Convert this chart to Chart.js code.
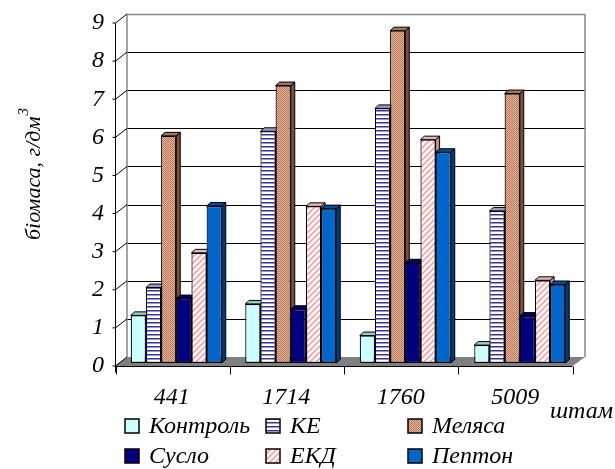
<!DOCTYPE html>
<html>
<head>
<meta charset="utf-8">
<script src="https://cdn.jsdelivr.net/npm/chart.js@4.4.1/dist/chart.umd.min.js"></script>
<style>
  html, body { margin: 0; padding: 0; background: #fff; }
  canvas { display: block; }
</style>
</head>
<body>
<canvas id="chart" width="615" height="469"></canvas>
<script>
// ── Data ───────────────────────────────────────────────────────────────────
const STRAINS  = ['441', '1714', '1760', '5009'];
const SERIES   = ['Контроль', 'КЕ', 'Меляса', 'Сусло', 'ЕКД', 'Пептон'];
const KONTROL  = [1.25, 1.55, 0.72, 0.47];
const KE       = [1.98, 6.08, 6.68, 3.99];
const MELIASA  = [5.96, 7.28, 8.72, 7.07];
const SUSLO    = [1.69, 1.41, 2.63, 1.23];
const EKD      = [2.89, 4.11, 5.86, 2.17];
const PEPTON   = [4.12, 4.05, 5.53, 2.06];
const Y_TICKS  = [0, 1, 2, 3, 4, 5, 6, 7, 8, 9];

// ── Look ───────────────────────────────────────────────────────────────────
const FAMILY = '"Liberation Serif", "Times New Roman", serif';
const FONT = 'italic 24px ' + FAMILY;
const BAR_DX = 4, BAR_DY = 3.5;     // bar depth
const FRONT_DX = -4.5, FRONT_DY = 3; // bar plane -> front plane
const BACK_DX = 8, BACK_DY = -6;     // bar plane -> back wall

function pattern(w, h, draw) {
  const c = document.createElement('canvas');
  c.width = w; c.height = h;
  const g = c.getContext('2d');
  draw(g);
  return g.createPattern(c, 'repeat');
}

const FILLS = [
  '#CCFFFF',
  pattern(4, 4, g => {
    g.fillStyle = '#fff'; g.fillRect(0, 0, 4, 4);
    g.fillStyle = '#333399'; g.fillRect(0, 2, 4, 1);
    g.fillStyle = '#9999cc'; g.fillRect(0, 3, 4, 1);
  }),
  pattern(2, 2, g => {
    g.fillStyle = '#E6B89C'; g.fillRect(0, 0, 2, 2);
    g.fillStyle = '#B77458'; g.fillRect(0, 0, 1, 1); g.fillRect(1, 1, 1, 1);
  }),
  '#000080',
  pattern(6, 6, g => {
    g.fillStyle = '#fff'; g.fillRect(0, 0, 6, 6);
    g.strokeStyle = '#FF9F9F'; g.lineWidth = 1.6;
    g.beginPath();
    g.moveTo(-1, 7); g.lineTo(7, -1);
    g.moveTo(-1, 1); g.lineTo(1, -1);
    g.moveTo(5, 7); g.lineTo(7, 5);
    g.stroke();
  }),
  '#0066CC',
];
const TOPS  = ['#99CCCC', '#9999CC', '#A9735C', '#000066', '#E8B8B8', '#00509F'];
const SIDES = ['#6FA3A3', '#4D4D8F', '#7A4E3E', '#00004A', '#C49090', '#003C7A'];

// ── 3D wall, floor, bar faces, axes, legend ───────────────────────────────
const excel3d = {
  id: 'excel3d',
  beforeDatasetsDraw(chart) {
    const { ctx, chartArea: a, scales: { y } } = chart;
    const fx0 = a.left + FRONT_DX, fx1 = a.right + FRONT_DX;
    const bx0 = a.left + BACK_DX,  bx1 = a.right + BACK_DX;
    const y0 = y.getPixelForValue(0);
    ctx.save();
    // floor
    ctx.fillStyle = '#808080';
    ctx.beginPath();
    ctx.moveTo(fx0, y0 + FRONT_DY);
    ctx.lineTo(fx1, y0 + FRONT_DY);
    ctx.lineTo(bx1, y0 + BACK_DY);
    ctx.lineTo(bx0, y0 + BACK_DY);
    ctx.closePath();
    ctx.fill();
    // back wall gridlines
    ctx.lineWidth = 1;
    Y_TICKS.forEach(v => {
      if (v === 0 || v === 9) return;
      const py = Math.round(y.getPixelForValue(v) + BACK_DY) + 0.5;
      ctx.strokeStyle = '#000';
      ctx.beginPath(); ctx.moveTo(bx0, py); ctx.lineTo(bx1, py); ctx.stroke();
    });
    // wall border
    const top = Math.round(y.getPixelForValue(9) + BACK_DY) + 0.5;
    ctx.strokeStyle = '#888';
    ctx.lineWidth = 1.5;
    ctx.beginPath();
    ctx.moveTo(bx0, y0 + BACK_DY); ctx.lineTo(bx0, top);
    ctx.lineTo(bx1, top); ctx.lineTo(bx1, y0 + BACK_DY);
    ctx.stroke();
    // bar side and top faces
    ctx.lineWidth = 1;
    ctx.strokeStyle = '#000';
    chart.data.datasets.forEach((ds, di) => {
      chart.getDatasetMeta(di).data.forEach(bar => {
        const { x, y: ty, base, width } = bar.getProps(['x', 'y', 'base', 'width'], true);
        const l = x - width / 2, r = x + width / 2;
        ctx.fillStyle = SIDES[di];
        ctx.beginPath();
        ctx.moveTo(r, ty); ctx.lineTo(r + BAR_DX, ty - BAR_DY);
        ctx.lineTo(r + BAR_DX, base - BAR_DY); ctx.lineTo(r, base);
        ctx.closePath(); ctx.fill(); ctx.stroke();
        ctx.fillStyle = TOPS[di];
        ctx.beginPath();
        ctx.moveTo(l, ty); ctx.lineTo(l + BAR_DX, ty - BAR_DY);
        ctx.lineTo(r + BAR_DX, ty - BAR_DY); ctx.lineTo(r, ty);
        ctx.closePath(); ctx.fill(); ctx.stroke();
      });
    });
    ctx.restore();
  },
  afterDraw(chart) {
    const { ctx, chartArea: a, scales: { x, y } } = chart;
    const fx0 = Math.round(a.left + FRONT_DX) + 0.5;
    const fx1 = a.right + FRONT_DX;
    const y0 = Math.round(y.getPixelForValue(0) + FRONT_DY) + 0.5;
    ctx.save();
    ctx.strokeStyle = '#000';
    ctx.lineWidth = 1;
    // front value axis + slanted ticks
    ctx.beginPath();
    ctx.moveTo(fx0, y0 + 6);
    ctx.lineTo(fx0, y.getPixelForValue(9) + FRONT_DY);
    Y_TICKS.forEach(v => {
      const py = y.getPixelForValue(v);
      ctx.moveTo(fx0 - 3, py + FRONT_DY);
      ctx.lineTo(fx0, py + FRONT_DY);
      ctx.lineTo(a.left + BACK_DX, py + BACK_DY);
    });
    // category axis
    ctx.moveTo(fx0, y0); ctx.lineTo(fx1, y0);
    for (let i = 0; i <= STRAINS.length; i++) {
      const px = Math.round(fx0 + (fx1 - fx0) * i / STRAINS.length) + 0.5;
      ctx.moveTo(px, y0); ctx.lineTo(px, y0 + 8);
    }
    ctx.stroke();

    ctx.fillStyle = '#000';
    ctx.font = FONT;
    ctx.textBaseline = 'middle';
    ctx.textAlign = 'right';
    y.ticks.forEach(t => ctx.fillText(String(t.value), 104, y.getPixelForValue(t.value) + FRONT_DY));
    ctx.textAlign = 'center';
    STRAINS.forEach((s, i) => ctx.fillText(s, x.getPixelForValue(i) + FRONT_DX, 398));
    ctx.textAlign = 'left';
    ctx.fillText('штам', 550, 412);

    // y title
    ctx.save();
    ctx.translate(34, 240);
    ctx.rotate(-Math.PI / 2);
    ctx.textAlign = 'left';
    ctx.font = 'italic 22px ' + FAMILY;
    ctx.fillText('біомаса, г/дм', 0, 0);
    const w = ctx.measureText('біомаса, г/дм').width;
    ctx.font = 'italic 15px ' + FAMILY;
    ctx.fillText('3', w + 1, -10);
    ctx.restore();

    // legend
    const cols = [125, 266, 408];
    const rows = [427, 457];
    ctx.font = FONT;
    chart.data.datasets.forEach((ds, i) => {
      const bx = cols[i % 3], by = rows[Math.floor(i / 3)];
      ctx.fillStyle = ds.backgroundColor;
      ctx.fillRect(bx, by - 8, 14, 14);
      ctx.lineWidth = 1.5;
      ctx.strokeRect(bx, by - 8, 14, 14);
      ctx.fillStyle = '#000';
      ctx.fillText(ds.label, bx + 24, by);
    });
    ctx.restore();
  }
};

const SERIES_VALUES = [KONTROL, KE, MELIASA, SUSLO, EKD, PEPTON];

function build() {
  new Chart(document.getElementById('chart'), {
    type: 'bar',
    data: {
      labels: STRAINS,
      datasets: SERIES.map((name, i) => ({
        label: name,
        data: SERIES_VALUES[i],
        backgroundColor: FILLS[i],
        borderColor: '#000',
        borderWidth: 1.2,
        borderSkipped: false,
        categoryPercentage: 0.795,
        barPercentage: 1.0,
      }))
    },
    options: {
      responsive: false,
      animation: false,
      devicePixelRatio: 1,
      layout: { padding: { left: 119, right: 38, top: 20, bottom: 106 } },
      plugins: { legend: { display: false }, tooltip: { enabled: false } },
      scales: {
        x: { display: false },
        y: { display: false, min: 0, max: 9, ticks: { stepSize: 1 } }
      }
    },
    plugins: [excel3d]
  });
}

document.fonts.load('italic 24px "Liberation Serif"', 'біомаса 0123').then(build, build);
</script>
</body>
</html>
